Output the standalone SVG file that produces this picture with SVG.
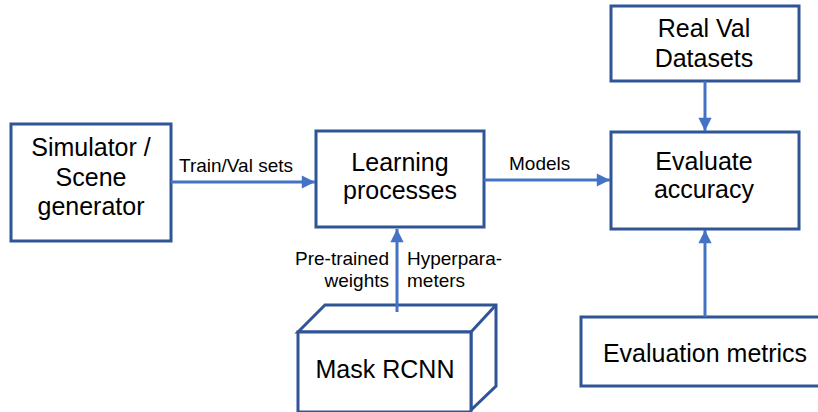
<svg xmlns="http://www.w3.org/2000/svg" width="818" height="412" viewBox="0 0 818 412">
  <style>
    .box { fill: #ffffff; stroke: #2F5597; stroke-width: 3; stroke-linejoin: miter; }
    .big { font-family: "Liberation Sans", Arial, sans-serif; font-size: 25px; fill: #000000; text-anchor: middle; }
    .lbl { font-family: "Liberation Sans", Arial, sans-serif; font-size: 19px; fill: #000000; }
    .wire { fill: none; stroke: #4472C4; stroke-width: 3; }
  </style>
  <defs>
    <marker id="head" viewBox="0 0 10 10" refX="10" refY="5" markerWidth="5.4" markerHeight="4.4" orient="auto" markerUnits="strokeWidth">
      <path d="M0,0 L10,5 L0,10 Z" fill="#4472C4"/>
    </marker>
  </defs>

  <rect width="818" height="412" fill="#ffffff"/>

  <!-- nodes -->
  <g id="simulator">
    <rect class="box" x="11" y="124" width="160" height="117"/>
    <text class="big" x="91" y="156">Simulator /</text>
    <text class="big" x="91" y="186">Scene</text>
    <text class="big" x="91" y="215">generator</text>
  </g>

  <g id="learning">
    <rect class="box" x="316" y="131" width="168" height="96"/>
    <text class="big" x="400" y="171">Learning</text>
    <text class="big" x="400" y="199">processes</text>
  </g>

  <g id="mask-rcnn">
    <path class="box" d="M298,332 L325,305 L496,305 L496,386 L471,410 L471,332 Z"/>
    <path class="box" d="M471,332 L496,305"/>
    <rect class="box" x="298" y="332" width="173" height="80"/>
    <text class="big" x="385" y="378">Mask RCNN</text>
  </g>

  <g id="real-val">
    <rect class="box" x="611" y="6" width="188" height="75"/>
    <text class="big" x="704" y="37">Real Val</text>
    <text class="big" x="704" y="67">Datasets</text>
  </g>

  <g id="evaluate">
    <rect class="box" x="611" y="132" width="188" height="97"/>
    <text class="big" x="704" y="170">Evaluate</text>
    <text class="big" x="704" y="198">accuracy</text>
  </g>

  <g id="metrics">
    <rect class="box" x="581" y="317" width="250" height="69"/>
    <text class="big" x="705" y="362">Evaluation metrics</text>
  </g>

  <!-- connectors -->
  <g id="connectors">
    <line class="wire" x1="171" y1="182" x2="315" y2="182" marker-end="url(#head)"/>
    <line class="wire" x1="484" y1="180" x2="610" y2="180" marker-end="url(#head)"/>
    <line class="wire" x1="397" y1="312" x2="397" y2="229" marker-end="url(#head)"/>
    <line class="wire" x1="705" y1="81" x2="705" y2="131" marker-end="url(#head)"/>
    <line class="wire" x1="705" y1="317" x2="705" y2="230" marker-end="url(#head)"/>
  </g>

  <!-- connector labels -->
  <g id="labels">
    <text class="lbl" x="179" y="172">Train/Val sets</text>
    <text class="lbl" x="509" y="170">Models</text>
    <text class="lbl" x="389" y="265" text-anchor="end">Pre-trained</text>
    <text class="lbl" x="389" y="287" text-anchor="end">weights</text>
    <text class="lbl" x="407" y="265">Hyperpara-</text>
    <text class="lbl" x="407" y="287">meters</text>
  </g>
</svg>
